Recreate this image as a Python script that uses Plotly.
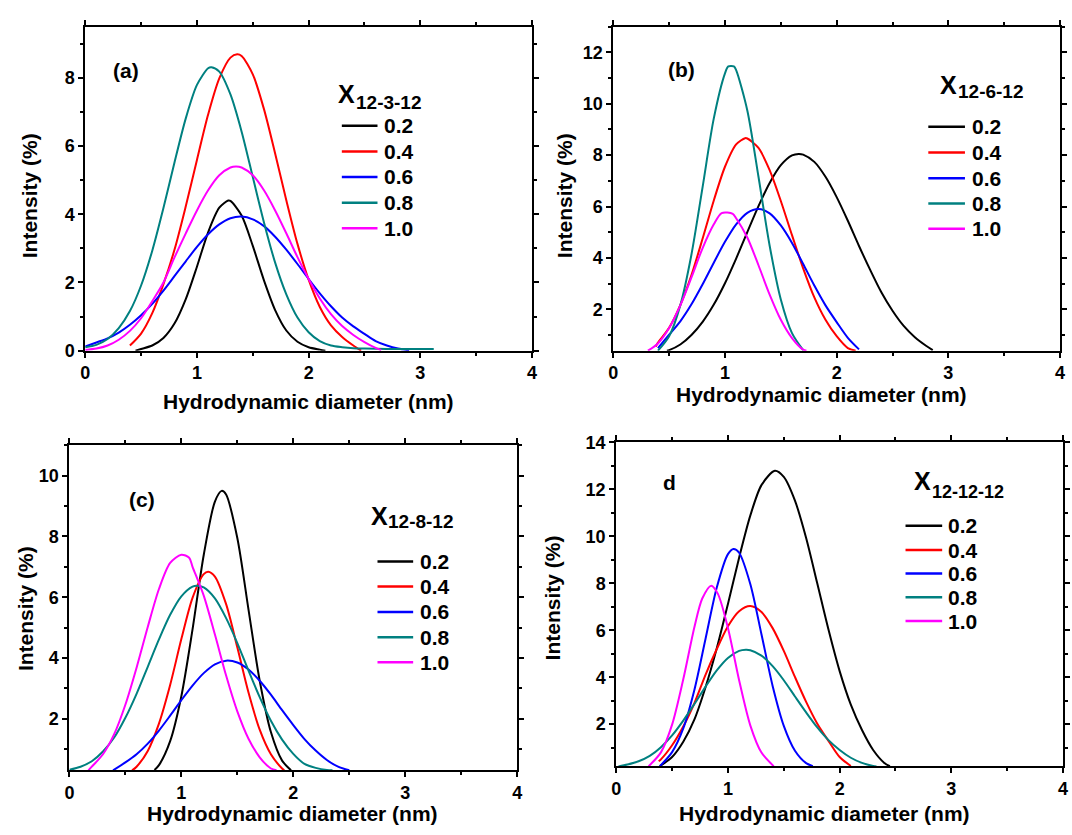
import plotly.graph_objects as go

W, H = 1072, 835
FONT = "Arial, 'Liberation Sans', Helvetica, sans-serif"

# ---------------- data ----------------
series_labels = ["0.2", "0.4", "0.6", "0.8", "1.0"]
series_colors = ["#000000", "#ff0000", "#0000ff", "#008080", "#ff00ff"]
panel_letters = ["(a)", "(b)", "(c)", "d"]
legend_symbol = "X"
legend_subscripts = ["12-3-12", "12-6-12", "12-8-12", "12-12-12"]
x_axis_title = "Hydrodynamic diameter (nm)"
y_axis_title = "Intensity (%)"
x_range = [0, 4]
y_ranges = [[0, 9.5], [0.4, 13.0], [0.3, 11.0], [0.2, 14.0]]

# panel (a) X12-3-12
a_x02 = [0.45, 0.5, 0.6, 0.7, 0.8, 0.9, 1.0, 1.1, 1.2, 1.28, 1.3, 1.4, 1.5, 1.6, 1.7, 1.8, 1.9, 2.0, 2.1, 2.15]
a_y02 = [0.0, 0.05, 0.15, 0.37, 0.80, 1.51, 2.46, 3.47, 4.19, 4.40, 4.39, 3.96, 3.07, 2.06, 1.19, 0.59, 0.26, 0.10, 0.03, 0.0]
a_x04 = [0.4, 0.5, 0.6, 0.7, 0.8, 0.9, 1.0, 1.1, 1.2, 1.3, 1.36, 1.4, 1.5, 1.6, 1.7, 1.8, 1.9, 2.0, 2.1, 2.2, 2.3, 2.4, 2.47]
a_y04 = [0.15, 0.5, 1.1, 1.95, 2.97, 4.23, 5.59, 6.92, 7.98, 8.59, 8.69, 8.64, 8.10, 7.08, 5.78, 4.41, 3.13, 2.08, 1.28, 0.74, 0.40, 0.15, 0.0]
a_x06 = [0.0, 0.1, 0.2, 0.3, 0.4, 0.5, 0.6, 0.7, 0.8, 0.9, 1.0, 1.1, 1.2, 1.3, 1.4, 1.5, 1.6, 1.7, 1.8, 1.9, 2.0, 2.1, 2.2, 2.3, 2.4, 2.5, 2.6, 2.7, 2.8, 2.9]
a_y06 = [0.12, 0.24, 0.36, 0.53, 0.76, 1.04, 1.37, 1.76, 2.19, 2.62, 3.04, 3.41, 3.70, 3.88, 3.93, 3.85, 3.65, 3.34, 2.96, 2.54, 2.10, 1.68, 1.30, 0.97, 0.71, 0.49, 0.28, 0.15, 0.06, 0.01]
a_x08 = [0.0, 0.1, 0.2, 0.3, 0.4, 0.5, 0.6, 0.7, 0.8, 0.9, 1.0, 1.1, 1.13, 1.2, 1.3, 1.4, 1.5, 1.6, 1.7, 1.8, 1.9, 2.0, 2.1, 2.2, 2.3, 2.4, 2.5, 2.7, 2.9, 3.12]
a_y08 = [0.1, 0.17, 0.34, 0.66, 1.16, 1.91, 2.93, 4.18, 5.53, 6.81, 7.79, 8.28, 8.31, 8.18, 7.51, 6.42, 5.09, 3.76, 2.58, 1.65, 0.97, 0.54, 0.28, 0.15, 0.10, 0.07, 0.06, 0.05, 0.05, 0.05]
a_x10 = [0.0, 0.1, 0.2, 0.3, 0.4, 0.5, 0.6, 0.7, 0.8, 0.9, 1.0, 1.1, 1.2, 1.3, 1.35, 1.4, 1.5, 1.6, 1.7, 1.8, 1.9, 2.0, 2.1, 2.2, 2.3, 2.4, 2.5, 2.6, 2.65]
a_y10 = [0.02, 0.06, 0.15, 0.32, 0.58, 0.95, 1.45, 2.0, 2.74, 3.44, 4.11, 4.70, 5.14, 5.37, 5.40, 5.37, 5.14, 4.70, 4.11, 3.44, 2.74, 2.10, 1.53, 1.07, 0.72, 0.46, 0.25, 0.08, 0.02]

# panel (b) X12-6-12
b_x02 = [0.48, 0.5, 0.6, 0.7, 0.8, 0.9, 1.0, 1.1, 1.2, 1.3, 1.4, 1.5, 1.6, 1.66, 1.7, 1.8, 1.9, 2.0, 2.1, 2.2, 2.3, 2.4, 2.5, 2.6, 2.7, 2.8, 2.86]
b_y02 = [0.4, 0.42, 0.64, 1.01, 1.52, 2.19, 3.02, 3.98, 5.01, 6.02, 6.92, 7.61, 7.99, 8.05, 8.02, 7.74, 7.16, 6.37, 5.45, 4.47, 3.54, 2.67, 1.95, 1.36, 0.92, 0.59, 0.42]
b_x04 = [0.38, 0.4, 0.5, 0.6, 0.7, 0.8, 0.9, 1.0, 1.1, 1.18, 1.2, 1.3, 1.4, 1.5, 1.6, 1.7, 1.8, 1.9, 2.0, 2.1, 2.17]
b_y04 = [0.56, 0.71, 1.29, 2.17, 3.34, 4.76, 6.24, 7.55, 8.42, 8.66, 8.65, 8.28, 7.42, 6.22, 4.89, 3.60, 2.47, 1.60, 0.96, 0.5, 0.4]
b_x06 = [0.4, 0.5, 0.6, 0.7, 0.8, 0.9, 1.0, 1.1, 1.2, 1.3, 1.4, 1.5, 1.6, 1.7, 1.8, 1.9, 2.0, 2.1, 2.2]
b_y06 = [0.5, 1.02, 1.54, 2.20, 2.98, 3.82, 4.63, 5.31, 5.76, 5.91, 5.74, 5.27, 4.59, 3.77, 2.93, 2.16, 1.51, 0.9, 0.45]
b_x08 = [0.4, 0.5, 0.6, 0.7, 0.8, 0.9, 1.0, 1.03, 1.08, 1.1, 1.2, 1.3, 1.4, 1.5, 1.6, 1.7]
b_y08 = [0.4, 0.96, 2.16, 4.14, 6.77, 9.43, 11.18, 11.45, 11.45, 11.31, 9.74, 7.16, 4.48, 2.39, 1.08, 0.42]
b_x10 = [0.31, 0.4, 0.5, 0.6, 0.7, 0.8, 0.9, 0.97, 1.07, 1.1, 1.2, 1.3, 1.4, 1.5, 1.6, 1.7, 1.73]
b_y10 = [0.4, 0.68, 1.28, 2.16, 3.25, 4.39, 5.31, 5.75, 5.72, 5.55, 4.80, 3.72, 2.58, 1.60, 0.89, 0.44, 0.4]

# panel (c) X12-8-12
c_x02 = [0.76, 0.8, 0.9, 1.0, 1.1, 1.2, 1.3, 1.36, 1.4, 1.5, 1.6, 1.7, 1.8, 1.9, 1.98]
c_y02 = [0.31, 0.47, 1.26, 2.74, 4.94, 7.39, 9.15, 9.5, 9.38, 7.95, 5.59, 3.25, 1.56, 0.62, 0.3]
c_x04 = [0.56, 0.6, 0.7, 0.8, 0.9, 1.0, 1.1, 1.2, 1.24, 1.3, 1.4, 1.5, 1.6, 1.7, 1.8, 1.9, 1.92]
c_y04 = [0.3, 0.42, 0.94, 1.84, 3.11, 4.62, 5.98, 6.76, 6.84, 6.68, 5.77, 4.35, 2.86, 1.64, 0.83, 0.36, 0.3]
c_x06 = [0.39, 0.5, 0.6, 0.7, 0.8, 0.9, 1.0, 1.1, 1.2, 1.3, 1.4, 1.5, 1.6, 1.7, 1.8, 1.9, 2.0, 2.1, 2.2, 2.3, 2.4, 2.5]
c_y06 = [0.3, 0.56, 0.83, 1.18, 1.61, 2.10, 2.61, 3.09, 3.50, 3.79, 3.91, 3.85, 3.62, 3.25, 2.79, 2.28, 1.79, 1.33, 0.95, 0.64, 0.42, 0.3]
c_x08 = [0.0, 0.1, 0.2, 0.3, 0.4, 0.5, 0.6, 0.7, 0.8, 0.9, 1.0, 1.1, 1.14, 1.2, 1.3, 1.4, 1.5, 1.6, 1.7, 1.8, 1.9, 2.0, 2.1, 2.2, 2.3, 2.35]
c_y08 = [0.32, 0.42, 0.6, 0.92, 1.38, 2.03, 2.82, 3.71, 4.61, 5.42, 6.03, 6.35, 6.38, 6.32, 5.96, 5.31, 4.49, 3.58, 2.71, 1.93, 1.31, 0.84, 0.51, 0.38, 0.31, 0.3]
c_x10 = [0.17, 0.2, 0.3, 0.4, 0.5, 0.6, 0.7, 0.8, 0.9, 1.0, 1.07, 1.1, 1.2, 1.3, 1.4, 1.5, 1.6, 1.7, 1.8, 1.85]
c_y10 = [0.3, 0.42, 0.83, 1.49, 2.46, 3.68, 5.02, 6.27, 7.13, 7.40, 7.3, 7.00, 6.05, 4.77, 3.42, 2.24, 1.34, 0.73, 0.36, 0.3]

# panel (d) X12-12-12
d_x02 = [0.39, 0.5, 0.6, 0.7, 0.8, 0.9, 1.0, 1.1, 1.2, 1.3, 1.42, 1.5, 1.6, 1.7, 1.8, 1.9, 2.0, 2.1, 2.2, 2.3, 2.4, 2.45]
d_y02 = [0.21, 0.6, 1.25, 2.2, 3.58, 5.23, 7.12, 9.09, 10.88, 12.18, 12.79, 12.53, 11.52, 9.93, 7.99, 6.03, 4.26, 2.83, 1.75, 0.9, 0.35, 0.21]
d_x04 = [0.38, 0.4, 0.5, 0.6, 0.7, 0.8, 0.9, 1.0, 1.1, 1.2, 1.3, 1.4, 1.5, 1.6, 1.7, 1.8, 1.9, 2.0, 2.1]
d_y04 = [0.42, 0.5, 1.1, 1.9, 2.9, 4.11, 5.20, 6.17, 6.81, 7.03, 6.78, 6.09, 5.12, 4.01, 2.95, 2.02, 1.29, 0.6, 0.22]
d_x06 = [0.39, 0.5, 0.6, 0.7, 0.8, 0.9, 1.0, 1.05, 1.1, 1.2, 1.3, 1.4, 1.5, 1.6, 1.7, 1.76]
d_y06 = [0.21, 0.81, 1.82, 3.47, 5.65, 7.82, 9.24, 9.46, 9.30, 7.97, 5.83, 3.63, 1.93, 0.87, 0.34, 0.21]
d_x08 = [0.02, 0.1, 0.2, 0.3, 0.4, 0.5, 0.6, 0.7, 0.8, 0.9, 1.0, 1.1, 1.16, 1.2, 1.3, 1.4, 1.5, 1.6, 1.7, 1.8, 1.9, 2.0, 2.1, 2.2, 2.3, 2.33]
d_y08 = [0.2, 0.28, 0.42, 0.65, 1.02, 1.52, 2.15, 2.86, 3.60, 4.29, 4.82, 5.12, 5.17, 5.15, 4.92, 4.47, 3.87, 3.18, 2.50, 1.86, 1.32, 0.90, 0.57, 0.35, 0.22, 0.2]
d_x10 = [0.29, 0.4, 0.5, 0.6, 0.7, 0.77, 0.85, 0.91, 1.0, 1.1, 1.2, 1.3, 1.41]
d_y10 = [0.21, 0.80, 1.98, 3.91, 6.14, 7.35, 7.9, 7.55, 6.10, 3.87, 1.95, 0.79, 0.21]

panel_x = [[a_x02, a_x04, a_x06, a_x08, a_x10],
           [b_x02, b_x04, b_x06, b_x08, b_x10],
           [c_x02, c_x04, c_x06, c_x08, c_x10],
           [d_x02, d_x04, d_x06, d_x08, d_x10]]
panel_y = [[a_y02, a_y04, a_y06, a_y08, a_y10],
           [b_y02, b_y04, b_y06, b_y08, b_y10],
           [c_y02, c_y04, c_y06, c_y08, c_y10],
           [d_y02, d_y04, d_y06, d_y08, d_y10]]

# ---------------- layout geometry (pixels) ----------------
boxes = [(81, 532, 17, 349), (614, 1065, 17, 349), (65, 517, 446, 779), (617, 1068, 443, 775)]
letter_xy = [(122, 62), (683, 61), (138, 502), (671, 484)]
xtitle_xy = [(306, 401), (824, 394), (290, 823), (827, 823)]
ytitle_xy = [(25, 190), (565, 190), (21, 613), (553, 602)]
leg_x_xy = [(334, 86.5), (942, 76.7), (367, 518), (916, 483)]
leg_sub_xy = [(352, 95), (960, 84), (385, 524), (934, 494)]
leg_sub_size = [19, 19, 19, 18]
leg_line_x = [(340, 376), (932, 969), (376, 412), (909, 946)]
leg_text_x = [381, 974, 417, 950]
leg_rows = [[118.5, 145, 171, 197.5, 223.5],
            [119.5, 146, 172.5, 198.3, 224.2],
            [565, 590.7, 616.7, 642.7, 668.3],
            [528.3, 553.3, 577.3, 601.7, 626]]


def fx(px):
    return px / W


def fy(py):
    return 1 - py / H


def bold(size):
    return dict(family=FONT, size=size, color="black", weight="bold")


def note(text, x, y, size, xanchor="center", angle=0):
    return dict(text=text, x=fx(x), y=fy(y), xref="paper", yref="paper", showarrow=False,
                font=bold(size), xanchor=xanchor, yanchor="middle", textangle=angle)


fig = go.Figure()
layout = dict(width=W, height=H, margin=dict(l=0, r=0, t=0, b=0),
              paper_bgcolor="white", plot_bgcolor="white", showlegend=False)
annotations = []
shapes = []

for i in range(4):
    k = i + 1
    sx = "" if k == 1 else str(k)
    l, r, t, b = boxes[i]
    common = dict(showline=True, linecolor="black", linewidth=2, mirror="allticks",
                  ticks="outside", ticklen=5, tickwidth=2, tickcolor="black",
                  showgrid=False, zeroline=False, tickfont=bold(18))
    layout["xaxis" + sx] = dict(domain=[fx(l), fx(r)], anchor="y" + sx, range=x_range,
                                tick0=0, dtick=1,
                                minor=dict(ticks="outside", ticklen=3, tickwidth=1.5,
                                           tickcolor="black", tick0=0, dtick=0.5),
                                **common)
    layout["yaxis" + sx] = dict(domain=[fy(b), fy(t)], anchor="x" + sx, range=y_ranges[i],
                                tick0=0, dtick=2,
                                minor=dict(ticks="outside", ticklen=3, tickwidth=1.5,
                                           tickcolor="black", tick0=0, dtick=1),
                                **common)
    for j in range(5):
        fig.add_trace(go.Scatter(x=panel_x[i][j], y=panel_y[i][j], mode="lines",
                                 name=series_labels[j],
                                 line=dict(color=series_colors[j], width=2,
                                           shape="spline", smoothing=0.8),
                                 xaxis="x" + sx, yaxis="y" + sx, showlegend=False))
    annotations.append(note(panel_letters[i], *letter_xy[i], 21))
    annotations.append(note(x_axis_title, *xtitle_xy[i], 21))
    annotations.append(note(y_axis_title, *ytitle_xy[i], 21, angle=-90))
    # legend: title X with subscript, then line samples + labels
    annotations.append(note(legend_symbol, *leg_x_xy[i], 25, xanchor="left"))
    annotations.append(note(legend_subscripts[i], *leg_sub_xy[i], leg_sub_size[i], xanchor="left"))
    for j in range(5):
        ry = leg_rows[i][j]
        shapes.append(dict(type="line", xref="paper", yref="paper",
                           x0=fx(leg_line_x[i][0]), x1=fx(leg_line_x[i][1]), y0=fy(ry), y1=fy(ry),
                           line=dict(color=series_colors[j], width=2.5)))
        annotations.append(note(series_labels[j], leg_text_x[i], ry, 21, xanchor="left"))

layout["annotations"] = annotations
layout["shapes"] = shapes
fig.update_layout(**layout)
fig.write_html("out.html",
               config={"displayModeBar": False},
               post_script="document.body.style.margin='0px';"
                           "document.body.style.padding='0px';"
                           "document.body.style.overflow='hidden';")
